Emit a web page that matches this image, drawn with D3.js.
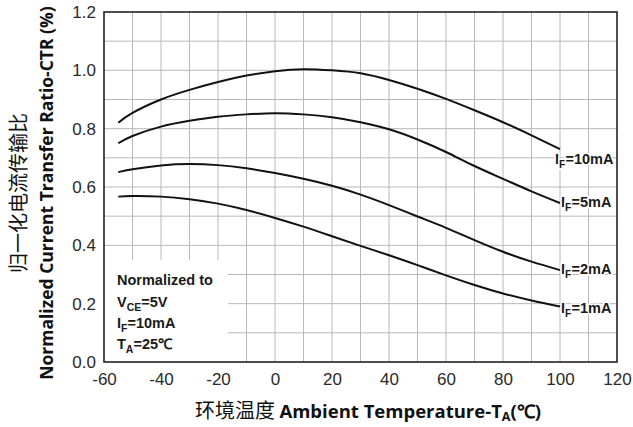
<!DOCTYPE html>
<html>
<head>
<meta charset="utf-8">
<script src="https://cdn.jsdelivr.net/npm/d3@7"></script>
<style>
  body { margin: 0; background: #fff; }
  svg { display: block; }
</style>
</head>
<body>
<script>
// ambient temperature (°C) sampled along each curve
const temps = [-55, -50, -40, -30, -20, -10, 0, 10, 20, 30, 40, 50, 60, 70, 80, 90, 100];

// normalized CTR for each forward current
const ctr10mA = [0.82, 0.854, 0.90, 0.933, 0.96, 0.982, 0.997, 1.004, 1.0, 0.99, 0.967, 0.937, 0.902, 0.863, 0.822, 0.777, 0.73];
const ctr5mA  = [0.75, 0.775, 0.807, 0.827, 0.841, 0.849, 0.853, 0.849, 0.839, 0.822, 0.798, 0.763, 0.72, 0.672, 0.628, 0.585, 0.545];
const ctr2mA  = [0.651, 0.661, 0.674, 0.679, 0.675, 0.664, 0.648, 0.628, 0.604, 0.574, 0.538, 0.499, 0.46, 0.418, 0.378, 0.344, 0.315];
const ctr1mA  = [0.567, 0.569, 0.567, 0.558, 0.543, 0.521, 0.494, 0.464, 0.431, 0.398, 0.366, 0.332, 0.297, 0.264, 0.235, 0.211, 0.19];

const seriesNames = ["10mA", "5mA", "2mA", "1mA"];
const seriesValues = [ctr10mA, ctr5mA, ctr2mA, ctr1mA];

const xTicks = [-60, -40, -20, 0, 20, 40, 60, 80, 100, 120];
const yTicks = [0, 0.2, 0.4, 0.6, 0.8, 1.0, 1.2];

const notes = ["Normalized to", ["V", "CE", "=5V"], ["I", "F", "=10mA"], ["T", "A", "=25℃"]];

const width = 633, height = 427;

const svg = d3.select("body").append("svg")
    .attr("width", width)
    .attr("height", height)
    .attr("viewBox", [0, 0, width, height]);

const x = d3.scaleLinear().domain([-60, 120]).range([104, 617]);
const y = d3.scaleLinear().domain([0, 1.2]).range([362, 12]);

// grid every 10 °C and every 0.1
const grid = svg.append("g").attr("stroke", "#b8b8b8").attr("stroke-width", 1);
grid.selectAll("line.v")
    .data(d3.range(-50, 120, 10))
    .join("line")
    .attr("x1", d => x(d)).attr("x2", d => x(d))
    .attr("y1", y(1.2)).attr("y2", y(0));
grid.selectAll("line.h")
    .data(d3.range(1, 12).map(i => i / 10))
    .join("line")
    .attr("x1", x(-60)).attr("x2", x(120))
    .attr("y1", d => y(d)).attr("y2", d => y(d));

// white panel behind the conditions note
svg.append("rect")
    .attr("x", x(-60)).attr("y", y(0.35))
    .attr("width", x(-16.5) - x(-60))
    .attr("height", y(0) - y(0.35))
    .attr("fill", "#fff");

// frame
svg.append("rect")
    .attr("x", x(-60)).attr("y", y(1.2))
    .attr("width", x(120) - x(-60))
    .attr("height", y(0) - y(1.2))
    .attr("fill", "none")
    .attr("stroke", "#222")
    .attr("stroke-width", 1.6);

// axes
const xAxis = svg.append("g")
    .attr("transform", `translate(0,${y(0)})`)
    .call(d3.axisBottom(x).tickValues(xTicks).tickFormat(d => String(d)).tickSize(0).tickPadding(11));
const yAxis = svg.append("g")
    .attr("transform", `translate(${x(-60)},0)`)
    .call(d3.axisLeft(y).tickValues(yTicks).tickFormat(d3.format(".1f")).tickSize(0).tickPadding(8));
[xAxis, yAxis].forEach(a => {
    a.select(".domain").remove();
    a.selectAll("text")
        .attr("font-family", "Liberation Sans, Arial, sans-serif")
        .attr("font-size", 17)
        .attr("fill", "#2a2a2a");
});

// curves
const line = d3.line()
    .x((d, i) => x(temps[i]))
    .y(d => y(d))
    .curve(d3.curveNatural);

svg.append("g")
    .selectAll("path")
    .data(seriesValues)
    .join("path")
    .attr("d", d => line(d))
    .attr("fill", "none")
    .attr("stroke", "#111")
    .attr("stroke-width", 2);

// end labels I_F=...
const labelFont = "Liberation Sans, Arial, sans-serif";
const labelOffsets = [[-5, 15], [1, 4], [1, 4], [1, 6]];
seriesValues.forEach((vals, k) => {
    const last = vals[vals.length - 1];
    const t = svg.append("text")
        .attr("x", x(100) + labelOffsets[k][0])
        .attr("y", y(last) + labelOffsets[k][1])
        .attr("font-family", labelFont)
        .attr("font-weight", "bold")
        .attr("font-size", 14.5)
        .attr("fill", "#1a1a1a")
        .attr("stroke", "#fff")
        .attr("stroke-width", 3)
        .attr("paint-order", "stroke");
    t.append("tspan").text("I");
    t.append("tspan").attr("font-size", 10.5).attr("dy", 4).text("F");
    t.append("tspan").attr("dy", -4).text("=" + seriesNames[k]);
});

// conditions note
const noteBaselines = [285, 307, 328, 349];
notes.forEach((n, i) => {
    const t = svg.append("text")
        .attr("x", 117)
        .attr("y", noteBaselines[i])
        .attr("font-family", labelFont)
        .attr("font-weight", "bold")
        .attr("font-size", 14.5)
        .attr("fill", "#1a1a1a");
    if (typeof n === "string") {
        t.text(n);
    } else {
        t.append("tspan").text(n[0]);
        t.append("tspan").attr("font-size", 10.5).attr("dy", 4).text(n[1]);
        t.append("tspan").attr("dy", -4).text(n[2]);
    }
});

// x axis title
const xt = svg.append("text")
    .attr("x", 368)
    .attr("y", 418)
    .attr("text-anchor", "middle")
    .attr("fill", "#111");
xt.append("tspan")
    .attr("font-family", "Noto Sans CJK SC")
    .attr("font-size", 20)
    .text("环境温度 ");
xt.append("tspan")
    .attr("font-family", "Open Sans, sans-serif")
    .attr("font-weight", "bold")
    .attr("font-size", 18.5)
    .text("Ambient Temperature-T");
xt.append("tspan")
    .attr("font-family", "Open Sans, sans-serif")
    .attr("font-weight", "bold")
    .attr("font-size", 12.5)
    .attr("dy", 3)
    .text("A");
xt.append("tspan")
    .attr("font-family", "Open Sans, sans-serif")
    .attr("font-weight", "bold")
    .attr("font-size", 18.5)
    .attr("dy", -3)
    .text("(℃)");

// y axis titles
svg.append("text")
    .attr("transform", "translate(26,193) rotate(-90)")
    .attr("text-anchor", "middle")
    .attr("font-family", "Noto Sans CJK SC")
    .attr("font-size", 20)
    .attr("fill", "#111")
    .text("归一化电流传输比");

svg.append("text")
    .attr("transform", "translate(53,193) rotate(-90)")
    .attr("text-anchor", "middle")
    .attr("font-family", "Open Sans, sans-serif")
    .attr("font-weight", "bold")
    .attr("font-size", 17.5)
    .attr("fill", "#111")
    .text("Normalized Current Transfer Ratio-CTR (%)");
</script>
</body>
</html>
